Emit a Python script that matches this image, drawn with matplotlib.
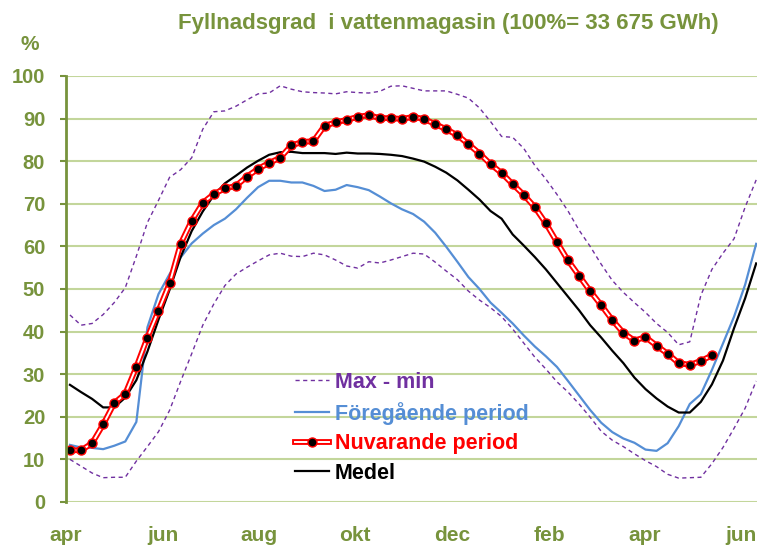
import numpy as np
import matplotlib
matplotlib.use("Agg")
import matplotlib.pyplot as plt
from matplotlib.lines import Line2D

# weekly values, first week starts a few days into april
nuvarande = [12.2, 12.1, 13.8, 18.2, 23.2, 25.4, 31.7, 38.6, 44.9, 51.3,
             60.6, 66.0, 70.2, 72.3, 73.6, 74.2, 76.4, 78.2, 79.6, 80.8,
             83.7, 84.5, 84.7, 88.3, 89.1, 89.7, 90.4, 90.8, 90.1, 90.1,
             89.9, 90.4, 89.9, 88.7, 87.5, 86.1, 84.0, 81.8, 79.3, 77.2,
             74.6, 72.1, 69.2, 65.4, 61.0, 56.7, 53.1, 49.5, 46.2, 42.7,
             39.7, 37.9, 38.7, 36.7, 34.8, 32.6, 32.2, 33.1, 34.4]

medel = [27.5, 25.8, 24.2, 22.2, 22.2, 24.5, 28.6, 35.3, 42.8, 49.8,
         57.5, 63.6, 68.2, 72.0, 74.8, 76.6, 78.5, 80.1, 81.5, 82.1,
         82.2, 81.9, 81.9, 81.9, 81.7, 82.0, 81.8, 81.8, 81.7, 81.5,
         81.2, 80.6, 79.9, 78.7, 77.3, 75.5, 73.3, 71.0, 68.3, 66.5,
         62.8, 60.2, 57.5, 54.6, 51.4, 48.2, 45.0, 41.5, 38.6, 35.5,
         32.6, 29.2, 26.5, 24.3, 22.4, 21.0, 21.0, 23.5, 27.6, 33.2,
         40.8, 47.8, 56.0]

foregaende = [13.4, 12.8, 12.7, 12.4, 13.2, 14.2, 18.8, 41.0, 48.8, 53.5,
              57.4, 60.7, 63.0, 65.0, 66.5, 68.7, 71.4, 73.9, 75.4, 75.4,
              75.0, 75.0, 74.2, 73.0, 73.3, 74.4, 73.9, 73.2, 71.7, 70.1,
              68.7, 67.6, 65.8, 63.2, 59.9, 56.4, 52.8, 50.0, 46.8, 44.4,
              41.9, 39.1, 36.5, 34.2, 31.7, 28.4, 25.0, 21.6, 18.6, 16.4,
              14.9, 13.9, 12.3, 12.0, 13.8, 17.8, 23.0, 25.3, 31.0, 37.2,
              43.5, 51.0, 60.6]

maxv = [43.9, 41.5, 41.9, 44.0, 46.8, 50.3, 57.7, 65.6, 70.8, 76.2,
        78.0, 80.8, 87.5, 91.6, 91.8, 92.9, 94.4, 95.8, 96.0, 97.7,
        96.9, 96.3, 96.1, 96.0, 95.8, 96.3, 96.1, 96.0, 96.4, 97.6,
        97.7, 97.1, 96.5, 96.5, 96.5, 95.7, 94.8, 92.5, 89.3, 85.8,
        85.6, 83.0, 79.0, 75.8, 72.2, 68.3, 63.8, 60.0, 55.8, 52.0,
        49.2, 46.8, 44.5, 41.9, 39.8, 36.9, 37.6, 48.5, 54.6, 58.4,
        61.8, 69.2, 75.6]

minv = [10.0, 8.4, 6.8, 5.7, 5.8, 5.8, 9.6, 13.0, 16.5, 21.5,
        28.3, 34.8, 41.5, 46.5, 50.8, 53.5, 55.1, 56.6, 58.0, 58.4,
        57.7, 57.6, 58.4, 58.0, 56.8, 55.4, 54.9, 56.4, 56.1, 56.8,
        57.6, 58.4, 58.2, 56.3, 54.2, 52.2, 49.5, 47.4, 45.6, 43.5,
        40.6, 37.3, 34.0, 31.2, 28.2, 25.8, 23.0, 19.9, 16.6, 14.5,
        13.0, 11.3, 9.7, 8.3, 6.5, 5.6, 5.7, 5.8, 9.0, 12.8,
        17.3, 22.0, 28.4]

month_labels = ["apr", "jun", "aug", "okt", "dec", "feb", "apr", "jun"]
month_starts = np.arange("2023-04", "2024-07", 2, dtype="datetime64[M]")

olive = "#77933c"
grid_col = "#c3d69b"
blue = "#558ed5"
purple = "#7030a0"

start = np.datetime64("2023-04-01")
tick_days = (month_starts.astype("datetime64[D]") - start).astype(float)

def days(n):
    return 2.5 + 7 * np.arange(n)

plt.rcParams["font.family"] = ["Liberation Sans", "DejaVu Sans"]
plt.rcParams["font.weight"] = "bold"

fig = plt.figure(figsize=(7.62, 5.47), dpi=100)
ax = fig.add_axes([0.0866, 0.0823, 0.9068, 0.7788])

dash = (0, (3, 2.5))
ax.plot(days(len(maxv)), maxv, color=purple, lw=1, ls=dash)
ax.plot(days(len(minv)), minv, color=purple, lw=1, ls=dash)
ax.plot(days(len(foregaende)), foregaende, color=blue, lw=1.6)
ax.plot(days(len(medel)), medel, color="black", lw=1.6)
xn = days(len(nuvarande))
ax.plot(xn, nuvarande, color="red", lw=4.2, solid_joinstyle="round")
ax.plot(xn, nuvarande, color="white", lw=1.4, solid_joinstyle="round")
ax.plot(xn, nuvarande, ls="none", marker="o", ms=6.5, mfc="black",
        mec="red", mew=1.0)

ax.set_ylim(0, 100)
ax.set_xlim(0, 437)
ax.set_yticks(np.arange(0, 101, 10))
ax.set_xticks(tick_days)
ax.set_xticklabels(month_labels)
ax.yaxis.grid(True, color=grid_col, lw=1.5)
ax.set_axisbelow(True)
for s in ["top", "right", "bottom"]:
    ax.spines[s].set_visible(False)
ax.spines["left"].set_color(olive)
ax.spines["left"].set_linewidth(2)
ax.tick_params(axis="y", colors=olive, length=4.5, width=1.5, pad=10.5,
               labelsize=14.5)
ax.tick_params(axis="x", colors=olive, length=0, pad=17.5, labelsize=15)

fig.text(448 / 762, 1 - 23 / 547, "Fyllnadsgrad  i vattenmagasin (100%= 33 675 GWh)",
         color=olive, fontsize=16, fontweight="bold", ha="center", va="center")
fig.text(30 / 762, 1 - 44.5 / 547, "%", color=olive, fontsize=15,
         fontweight="bold", ha="center", va="center")

h_max = Line2D([], [], color=purple, lw=1, ls=dash)
h_for = Line2D([], [], color=blue, lw=1.6)
h_nuv = (Line2D([], [], color="red", lw=4.2),
         Line2D([], [], color="white", lw=1.4),
         Line2D([], [], ls="none", marker="o", ms=6.5, mfc="black", mec="red", mew=1.0))
h_med = Line2D([], [], color="black", lw=1.6)
leg = fig.legend([h_max, h_for, h_nuv, h_med],
                 ["Max - min", "Föregående period", "Nuvarande period", "Medel"],
                 loc="upper left", bbox_to_anchor=(295 / 762, 1 - 372 / 547),
                 frameon=False, fontsize=15.5, handlelength=1.6,
                 handletextpad=0.25, labelspacing=0.4, borderpad=0,
                 borderaxespad=0, labelcolor=[purple, blue, "red", "black"])
for t in leg.get_texts():
    t.set_fontweight("bold")

fig.savefig("out.png", dpi=100)
